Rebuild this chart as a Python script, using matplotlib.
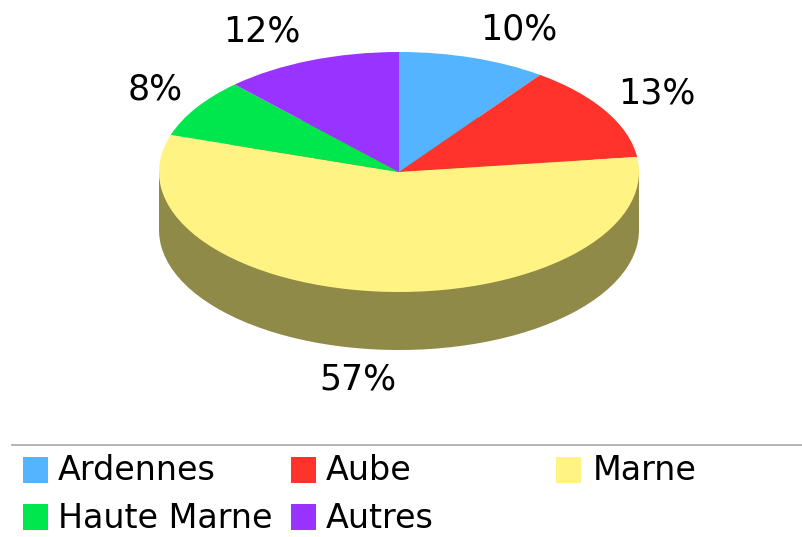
import matplotlib
matplotlib.use("Agg")
import matplotlib.pyplot as plt
from matplotlib.patches import Rectangle

# Data
regions = ["Ardennes", "Aube", "Marne", "Haute Marne", "Autres"]
shares = [10, 13, 57, 8, 12]
labels = ["10%", "13%", "57%", "8%", "12%"]
colors = ["#54B4FF", "#FF332B", "#FFF384", "#00E64D", "#9933FF"]
side_color = "#8F8A48"

W, H = 802, 537
fig = plt.figure(figsize=(W / 100, H / 100), dpi=100)

# Flattened pie: unit circle stretched to 240x120 px, centre at (399, 172)
cx, cy, rx, ry = 399, 172, 240, 120
ax = fig.add_axes([(cx - 2 * rx) / W, 1 - (cy + 2 * ry) / H, 4 * rx / W, 4 * ry / H])
depth = 58 / ry

# Side of the disc
ax.pie(shares, colors=[side_color] * 5, center=(0, -depth), radius=1, startangle=90, counterclock=False)
ax.add_patch(Rectangle((-1, -depth), 2, depth, fc=side_color, ec="none"))
# Top of the disc
ax.pie(shares, colors=colors, center=(0, 0), radius=1, startangle=90, counterclock=False,
       wedgeprops=dict(edgecolor="none"))
ax.set_aspect("auto")
ax.set_xlim(-2, 2)
ax.set_ylim(-2, 2)
ax.axis("off")

# Percent labels, centres in pixels
label_pos = [(519, 29), (657, 94), (358, 380), (155, 89), (262, 31)]
for txt, (px, py) in zip(labels, label_pos):
    fig.text(px / W, 1 - py / H, txt, fontsize=25, color="black", ha="center", va="center")

# Legend under a thin rule
leg = fig.add_axes([0, 0, 1, 1], facecolor="none")
leg.set_xlim(0, W)
leg.set_ylim(H, 0)
leg.axis("off")
leg.plot([12, 802], [445, 445], color="#A8A8A8", lw=1.2)
swatch_x = [23, 291, 556, 23, 291]
text_x = [58, 326, 593, 58, 326]
row_y = [470, 470, 470, 517, 517]
for name, c, sx, tx, y in zip(regions, colors, swatch_x, text_x, row_y):
    leg.add_patch(Rectangle((sx, y - 13), 25, 26, fc=c, ec="none"))
    leg.text(tx, y + 1, name, fontsize=24, color="black", ha="left", va="center")

fig.savefig("out.png", dpi=100)
